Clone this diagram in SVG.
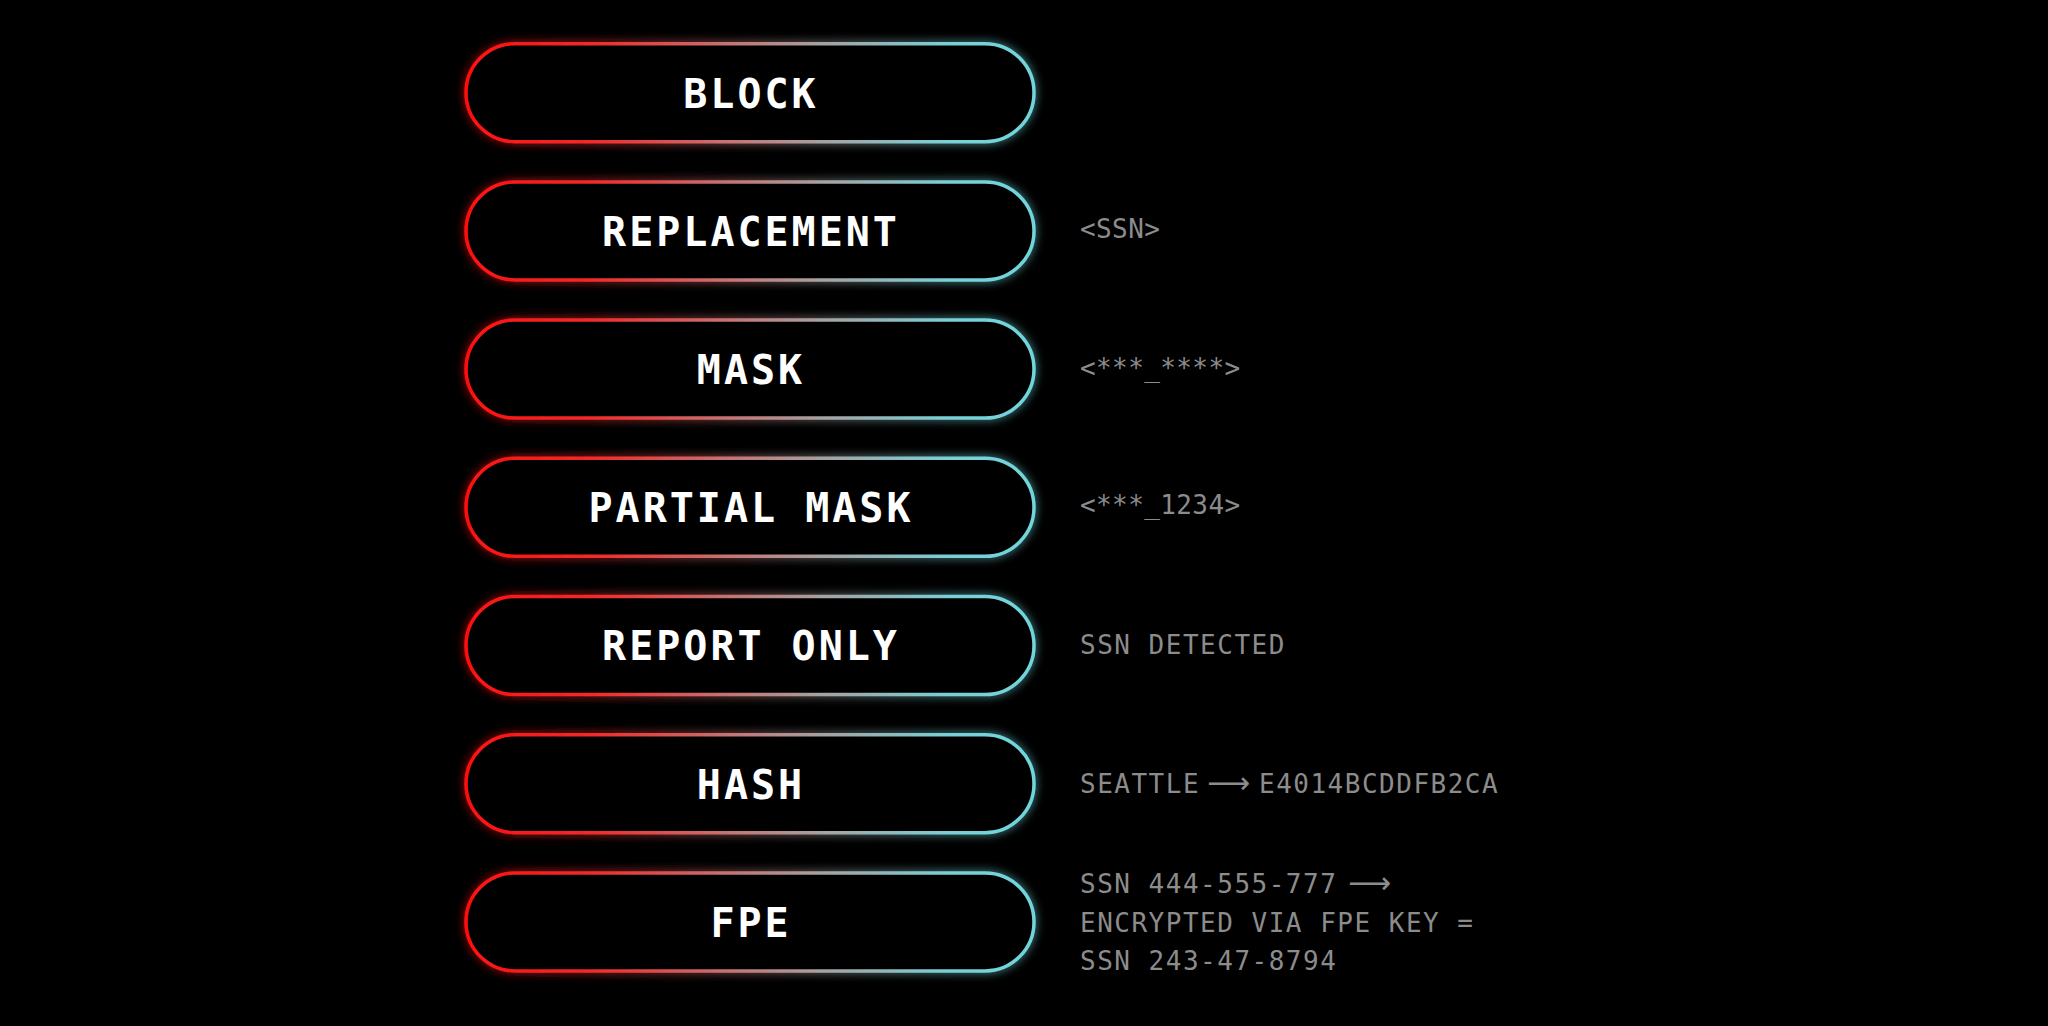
<svg xmlns="http://www.w3.org/2000/svg" width="2048" height="1026" viewBox="0 0 2048 1026">
<defs>
<linearGradient id="g" x1="0" y1="0" x2="1" y2="0">
<stop offset="0" stop-color="#ff1010"/>
<stop offset="0.22" stop-color="#f22a2a"/>
<stop offset="0.45" stop-color="#c87070"/>
<stop offset="0.62" stop-color="#a8a0a0"/>
<stop offset="0.85" stop-color="#78d0d6"/>
<stop offset="1" stop-color="#6fd6dc"/>
</linearGradient>
<filter id="glow" x="-10%" y="-40%" width="120%" height="180%">
<feGaussianBlur in="SourceGraphic" stdDeviation="5" result="b"/>
<feComponentTransfer in="b" result="b2"><feFuncA type="linear" slope="0.8"/></feComponentTransfer>
<feMerge><feMergeNode in="b2"/><feMergeNode in="SourceGraphic"/></feMerge>
</filter>
<style>
.pill{fill:#000;stroke:url(#g);stroke-width:3.5;filter:url(#glow)}
.lbl{font-family:"DejaVu Sans Mono","Liberation Mono",monospace;font-weight:bold;font-size:40px;fill:#fff;letter-spacing:3px;text-anchor:middle}
.note{font-family:"DejaVu Sans Mono","Liberation Mono",monospace;font-size:26px;fill:#8c8c8c;letter-spacing:1.5px}
.tight{letter-spacing:0.4px}
.arr{font-family:"DejaVu Sans",sans-serif;font-size:30px}
</style>
</defs>
<rect width="2048" height="1026" fill="#000"/>
<g id="connectors"></g>
<g id="block"><rect class="pill" x="466" y="43.7" width="568" height="98" rx="49"/><text class="lbl" x="751" y="107.5">BLOCK</text></g>
<g id="replacement"><rect class="pill" x="466" y="181.9" width="568" height="98" rx="49"/><text class="lbl" x="751" y="245.7">REPLACEMENT</text><text class="note tight" x="1080" y="238">&lt;SSN&gt;</text></g>
<g id="mask"><rect class="pill" x="466" y="320.1" width="568" height="98" rx="49"/><text class="lbl" x="751" y="383.9">MASK</text><text class="note tight" x="1080" y="377">&lt;***_****&gt;</text></g>
<g id="partial-mask"><rect class="pill" x="466" y="458.3" width="568" height="98" rx="49"/><text class="lbl" x="751" y="522.1">PARTIAL MASK</text><text class="note tight" x="1080" y="513.5">&lt;***_1234&gt;</text></g>
<g id="report-only"><rect class="pill" x="466" y="596.5" width="568" height="98" rx="49"/><text class="lbl" x="751" y="660.3">REPORT ONLY</text><text class="note" x="1080" y="654">SSN DETECTED</text></g>
<g id="hash"><rect class="pill" x="466" y="734.7" width="568" height="98" rx="49"/><text class="lbl" x="751" y="798.5">HASH</text><text class="note" y="792.7"><tspan x="1080">SEATTLE</tspan><tspan class="arr" x="1207">⟶</tspan><tspan x="1259">E4014BCDDFB2CA</tspan></text></g>
<g id="fpe"><rect class="pill" x="466" y="872.9" width="568" height="98" rx="49"/><text class="lbl" x="751" y="936.7">FPE</text>
<text class="note" y="893.3"><tspan x="1080">SSN 444-555-777</tspan><tspan class="arr" x="1348">⟶</tspan></text>
<text class="note" x="1080" y="931.7">ENCRYPTED VIA FPE KEY =</text>
<text class="note" x="1080" y="970">SSN 243-47-8794</text></g>
</svg>
